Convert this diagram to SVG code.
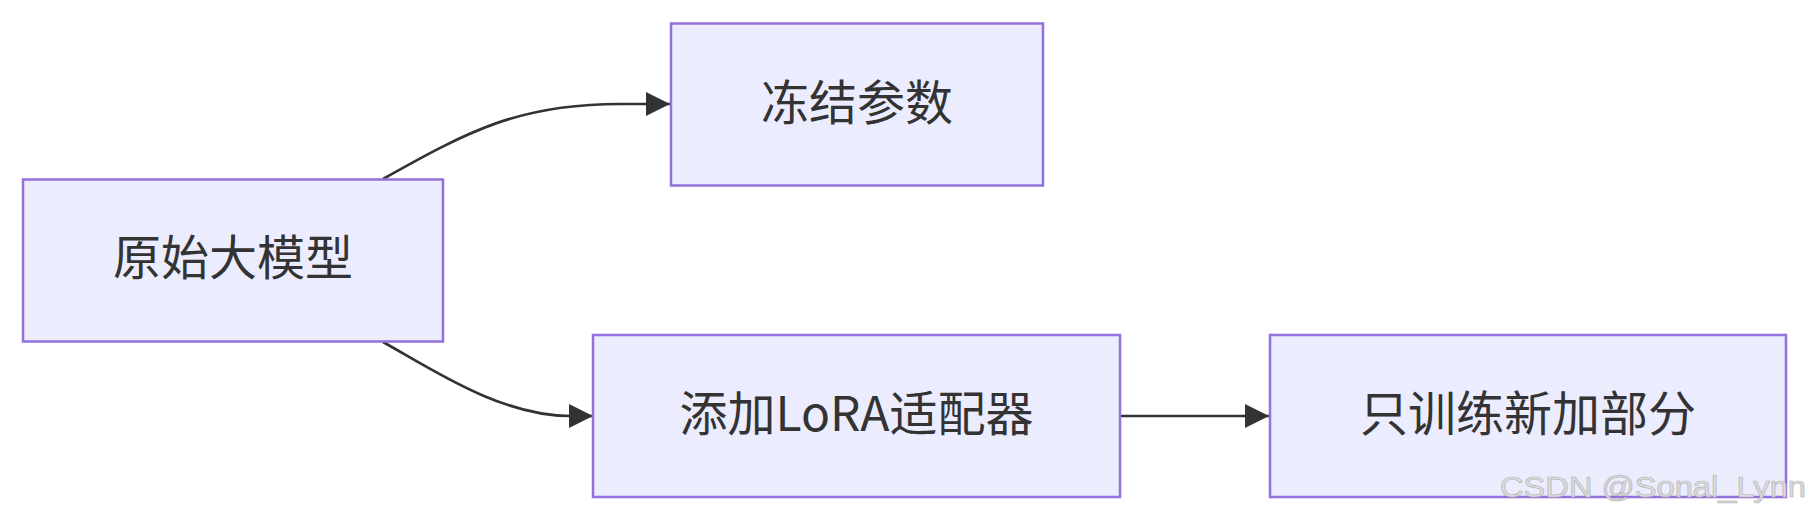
<svg xmlns="http://www.w3.org/2000/svg" width="1810" height="521" viewBox="0 0 1810 521">
<defs>
<style>
.node rect{fill:#ECECFF;stroke:#9370DB;stroke-width:2.5;}
.node text{font-family:"Noto Sans CJK SC","Noto Sans",sans-serif;font-size:48px;fill:#333333;text-anchor:middle;}
.edge{fill:none;stroke:#333333;stroke-width:2.7;}
.wm{font-family:"Liberation Sans",Arial,sans-serif;font-size:29px;fill:#dddddd;stroke:#b5b5b5;stroke-width:0.7;}
</style>
<marker id="arrow" viewBox="0 0 24 24" refX="24" refY="12" markerWidth="24" markerHeight="24" markerUnits="userSpaceOnUse" orient="auto">
<path d="M0,0 L24,12 L0,24 Z" fill="#333333"/>
</marker>
</defs>
<rect width="1810" height="521" fill="#ffffff"/>
<g id="connectors">
<path class="edge" d="M383,179 C470,130 520,104 620,104 L670,104" marker-end="url(#arrow)"/>
<path class="edge" d="M383,342 C430,368 500,416 570,416 L593,416" marker-end="url(#arrow)"/>
<path class="edge" d="M1120,416 L1269,416" marker-end="url(#arrow)"/>
</g>
<g id="node-original" class="node">
<rect x="23" y="179.5" width="420" height="162"/>
<text x="233" y="275">原始大模型</text>
</g>
<g id="node-freeze" class="node">
<rect x="671" y="23.5" width="372" height="162"/>
<text x="857" y="119.5">冻结参数</text>
</g>
<g id="node-lora" class="node">
<rect x="593" y="335" width="527" height="162"/>
<text x="856.5" y="431">添加LoRA适配器</text>
</g>
<g id="node-train" class="node">
<rect x="1270" y="335" width="516" height="162"/>
<text x="1528" y="431">只训练新加部分</text>
</g>
<text class="wm" x="1500" y="497" textLength="306" lengthAdjust="spacingAndGlyphs">CSDN @Sonal_Lynn</text>
</svg>
